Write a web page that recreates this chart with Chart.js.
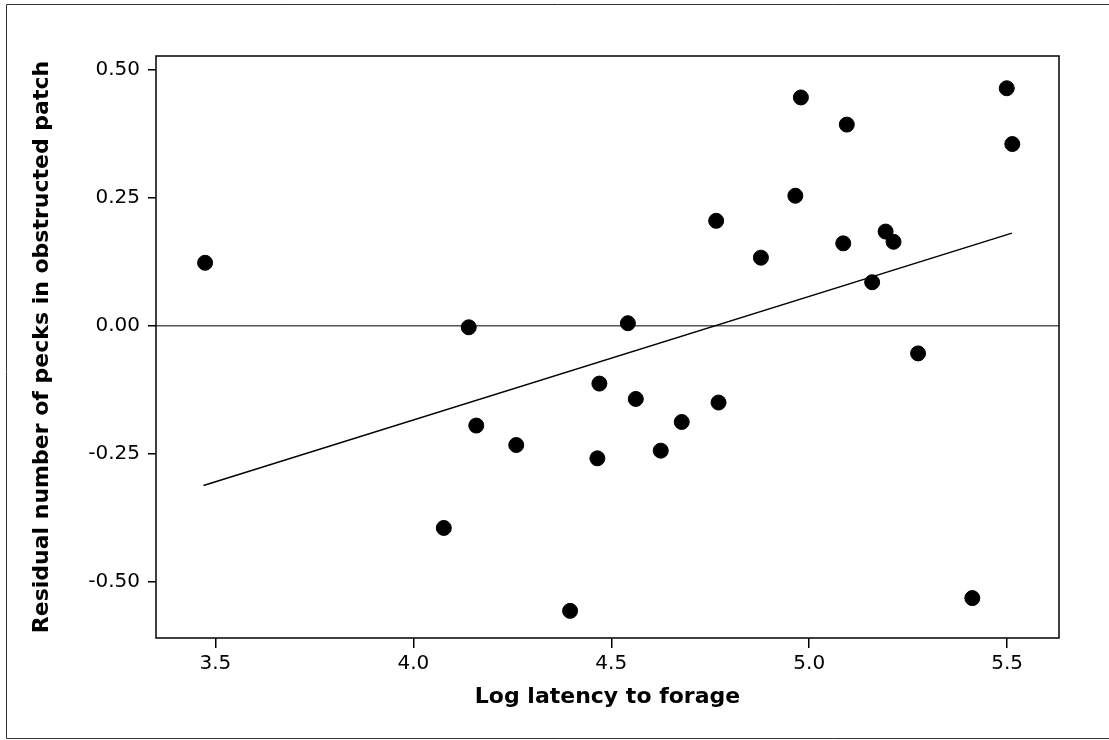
<!DOCTYPE html>
<html>
<head>
<meta charset="utf-8">
<script src="https://cdn.jsdelivr.net/npm/chart.js@4"></script>
<style>
  body { margin: 0; background: #fff; }
</style>
</head>
<body>
<canvas id="residChart" width="1109" height="740"></canvas>
<script>
// Log latency (x) vs residual pecks (y)
const latency = [3.474, 4.077, 4.140, 4.159, 4.260, 4.396, 4.465, 4.470, 4.542, 4.562,
                 4.625, 4.678, 4.765, 4.771, 4.878, 4.965, 4.979, 5.086, 5.095, 5.159,
                 5.193, 5.213, 5.275, 5.412, 5.499, 5.513];
const residual = [0.123, -0.395, -0.003, -0.195, -0.233, -0.557, -0.259, -0.113, 0.005, -0.143,
                  -0.244, -0.188, 0.205, -0.150, 0.133, 0.254, 0.446, 0.161, 0.393, 0.085,
                  0.184, 0.164, -0.054, -0.532, 0.464, 0.355];

// fitted line endpoints
const fitX = [3.470, 5.512];
const fitY = [-0.312, 0.181];

const refLine = 0;
const xTicks = [3.5, 4.0, 4.5, 5.0, 5.5];
const yTicks = [-0.50, -0.25, 0.00, 0.25, 0.50];

const points = latency.map((x, i) => ({ x: x, y: residual[i] }));
const fitPoints = fitX.map((x, i) => ({ x: x, y: fitY[i] }));

// outer frame, zero line and the box round the plot
const framePlugin = {
    id: 'frame',
    beforeDatasetsDraw(chart) {
        const { ctx, chartArea } = chart;
        const y0 = chart.scales.y.getPixelForValue(refLine);
        ctx.save();
        ctx.strokeStyle = '#555';
        ctx.lineWidth = 1.5;
        ctx.beginPath();
        ctx.moveTo(chartArea.left, y0);
        ctx.lineTo(chartArea.right, y0);
        ctx.stroke();
        ctx.restore();
    },
    afterDraw(chart) {
        const { ctx, chartArea } = chart;
        ctx.save();
        ctx.strokeStyle = '#000';
        ctx.lineWidth = 1.5;
        ctx.strokeRect(chartArea.left, chartArea.top,
                       chartArea.right - chartArea.left, chartArea.bottom - chartArea.top);
        // page frame: open on the right, it runs off the picture
        ctx.strokeStyle = '#333';
        ctx.lineWidth = 1;
        ctx.beginPath();
        ctx.moveTo(chart.width, 4.5);
        ctx.lineTo(6.5, 4.5);
        ctx.lineTo(6.5, 738.5);
        ctx.lineTo(chart.width, 738.5);
        ctx.stroke();
        ctx.restore();
    }
};

const ctx = document.getElementById('residChart').getContext('2d');
new Chart(ctx, {
    type: 'scatter',
    data: {
        datasets: [
            {
                label: 'Residuals',
                data: points,
                backgroundColor: '#000',
                borderColor: '#000',
                pointRadius: 7.5,
                pointHoverRadius: 7.5
            },
            {
                label: 'Fit',
                data: fitPoints,
                showLine: true,
                borderColor: '#000',
                borderWidth: 1.5,
                pointRadius: 0,
                fill: false
            }
        ]
    },
    options: {
        responsive: false,
        animation: false,
        layout: { padding: { top: 56, right: 50, left: 0, bottom: 0 } },
        plugins: {
            legend: { display: false },
            tooltip: { enabled: false }
        },
        scales: {
            x: {
                type: 'linear',
                min: 3.35,
                max: 5.631,
                afterBuildTicks: (scale) => { scale.ticks = xTicks.map(v => ({ value: v })); },
                afterFit: (scale) => { scale.height = 102; },
                border: { display: false },
                grid: { drawOnChartArea: false, drawTicks: true, tickLength: 10, color: '#000', lineWidth: 1.5 },
                ticks: {
                    color: '#000',
                    padding: 4,
                    maxRotation: 0,
                    autoSkip: false,
                    font: { family: 'DejaVu Sans', size: 20 },
                    callback: (v) => Number(v).toFixed(1)
                },
                title: {
                    display: true,
                    text: 'Log latency to forage',
                    color: '#000',
                    padding: { bottom: 30 },
                    font: { family: 'DejaVu Sans', size: 22, weight: 'bold' }
                }
            },
            y: {
                type: 'linear',
                min: -0.61,
                max: 0.527,
                afterBuildTicks: (scale) => { scale.ticks = yTicks.map(v => ({ value: v })); },
                afterFit: (scale) => { scale.width = 156; },
                border: { display: false },
                grid: { drawOnChartArea: false, drawTicks: true, tickLength: 8, color: '#000', lineWidth: 1.5 },
                ticks: {
                    color: '#000',
                    padding: 8,
                    autoSkip: false,
                    font: { family: 'DejaVu Sans', size: 20 },
                    callback: (v) => Number(v).toFixed(2)
                },
                title: {
                    display: true,
                    text: 'Residual number of pecks in obstructed patch',
                    color: '#000',
                    padding: { top: 29 },
                    font: { family: 'DejaVu Sans', size: 22, weight: 'bold' }
                }
            }
        }
    },
    plugins: [framePlugin]
});
</script>
</body>
</html>
